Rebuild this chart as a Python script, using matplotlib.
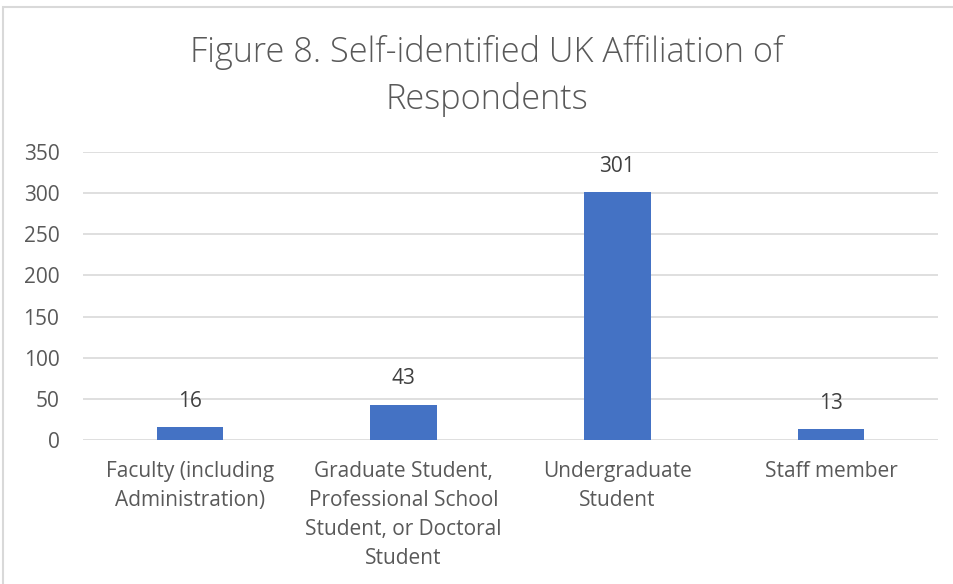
import matplotlib.pyplot as plt
from matplotlib.patches import Rectangle

categories = [
    "Faculty (including\nAdministration)",
    "Graduate Student,\nProfessional School\nStudent, or Doctoral\nStudent",
    "Undergraduate\nStudent",
    "Staff member",
]
counts = [16, 43, 301, 13]
yticks = [0, 50, 100, 150, 200, 250, 300, 350]

W, H = 954, 584
fig = plt.figure(figsize=(W / 100, H / 100), dpi=100)
plt.rcParams['font.family'] = ['Open Sans', 'DejaVu Sans']
txt = '#595959'

# chart frame, runs off the right and bottom edges
fig.patches.append(Rectangle((3 / W, -0.1), 1.1, (H - 7) / H + 0.1,
                             transform=fig.transFigure, fill=False,
                             edgecolor='#d9d9d9', linewidth=1.5))

ax = fig.add_axes([83 / W, 1 - 440 / H, (938 - 83) / W, (440 - 152) / H])
x = range(len(categories))
bars = ax.bar(x, counts, width=0.31, color='#4472c4', zorder=3)
for b, v in zip(bars, counts):
    ax.annotate(str(v), (b.get_x() + b.get_width() / 2, v), xytext=(0, 11),
                textcoords='offset points', ha='center', va='bottom',
                fontsize=15, color='#404040')

ax.set_xlim(-0.5, 3.5)
ax.set_ylim(0, 350)
ax.set_yticks(yticks)
ax.yaxis.grid(True, color='#d9d9d9', linewidth=1.2, zorder=0)
ax.set_xticks(list(x))
ax.set_xticklabels(categories, fontsize=15, color=txt, linespacing=1.5)
ax.tick_params(axis='y', labelsize=15, colors=txt, length=0, pad=17)
ax.tick_params(axis='x', length=0, pad=15)
for s in ax.spines.values():
    s.set_visible(False)

fig.text(487 / W, 1 - 76 / H, "Figure 8. Self-identified UK Affiliation of\nRespondents",
         ha='center', va='center', fontsize=24.7, color=txt, linespacing=1.45,
         fontweight='light')

fig.savefig('out.png', dpi=100)
